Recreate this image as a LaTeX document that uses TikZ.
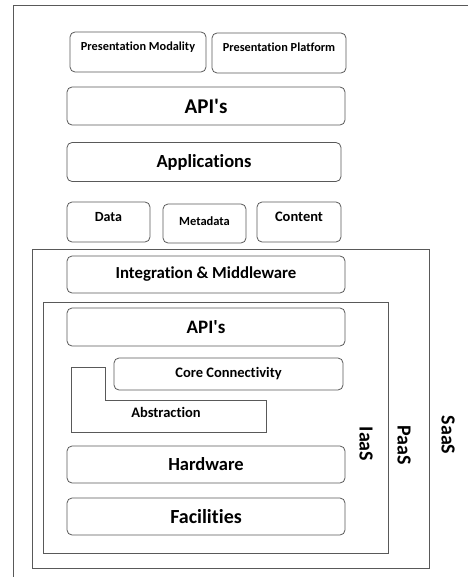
\documentclass[tikz,border=0pt]{standalone}
\usepackage{fontspec}
\setmainfont{Carlito}[Ligatures=NoCommon]
\usetikzlibrary{calc}

\tikzset{
  layer/.style={draw=black!65, line width=0.8pt, rounded corners=5pt, inner sep=0pt, font=\bfseries},
  frame/.style={draw=black!65, line width=0.8pt},
  side/.style={font=\bfseries\fontsize{20}{22}\selectfont, rotate=-90, inner sep=0pt},
}

\begin{document}
\begin{tikzpicture}[x=1pt, y=-1pt]
      \useasboundingbox (0,0) rectangle (468,578);
      \draw[frame] (468,5) -- (13,5) -- (13,577);

      % outer service frames
      \draw[frame] (32,249) rectangle (429,568);
      \draw[frame] (43,302) rectangle (388,553);

      \node[layer, minimum width=136, minimum height=40, label={[anchor=north, yshift=-7pt, font=\bfseries\fontsize{12.3}{14}\selectfont]north:{Presentation Modality}}] (pmod) at (138,52) {};
      \node[layer, minimum width=134, minimum height=40, label={[anchor=north, yshift=-7pt, font=\bfseries\fontsize{12.3}{14}\selectfont]north:{Presentation Platform}}] (pplat) at (279,53) {};
      \node[layer, minimum width=278, minimum height=38, font=\bfseries\fontsize{21}{23}\selectfont] (api1) at (206,106) {API\textquotesingle s};
      \node[layer, minimum width=274, minimum height=39, font=\bfseries\fontsize{18.5}{20}\selectfont] (apps) at (204,162) {Applications};
      \node[layer, minimum width=83, minimum height=40, label={[anchor=north, yshift=-7pt, font=\bfseries\fontsize{14}{16}\selectfont]north:{Data}}] (data) at (108.5,222) {};
      \node[layer, minimum width=83, minimum height=39, label={[anchor=north, yshift=-10pt, font=\bfseries\fontsize{12.5}{14}\selectfont]north:{Metadata}}] (meta) at (204.5,223.5) {};
      \node[layer, minimum width=84, minimum height=40, label={[anchor=north, yshift=-7pt, font=\bfseries\fontsize{14.5}{16}\selectfont]north:{Content}}] (cont) at (299,222) {};

      \node[layer, minimum width=278, minimum height=37, font=\bfseries\fontsize{16.8}{18}\selectfont] (integ) at (206,274.5) {Integration \& Middleware};
      \node[layer, minimum width=278, minimum height=38, font=\bfseries\fontsize{19}{21}\selectfont] (api2) at (206,327) {API\textquotesingle s};
      \node[layer, minimum width=229, minimum height=32, font=\bfseries\fontsize{14.5}{16}\selectfont] (core) at (228.5,374) {Core Connectivity};

      % abstraction
      \draw[frame] (71,367) -- (105,367) -- (105,400) -- (266,400) -- (266,432) -- (71,432) -- cycle;
      \node[font=\bfseries\fontsize{14.5}{16}\selectfont, inner sep=0pt] (abst) at (166,412) {Abstraction};

      \node[layer, minimum width=278, minimum height=37, font=\bfseries\fontsize{18.5}{20}\selectfont] (hw) at (206,464.5) {Hardware};
      \node[layer, minimum width=278, minimum height=37, font=\bfseries\fontsize{20}{22}\selectfont] (fac) at (206,516.5) {Facilities};

      \node[side] (iaas) at (366,444) {IaaS};
      \node[side] (paas) at (404,445) {PaaS};
      \node[side] (saas) at (448,435) {SaaS};
    \end{tikzpicture}
\end{document}
